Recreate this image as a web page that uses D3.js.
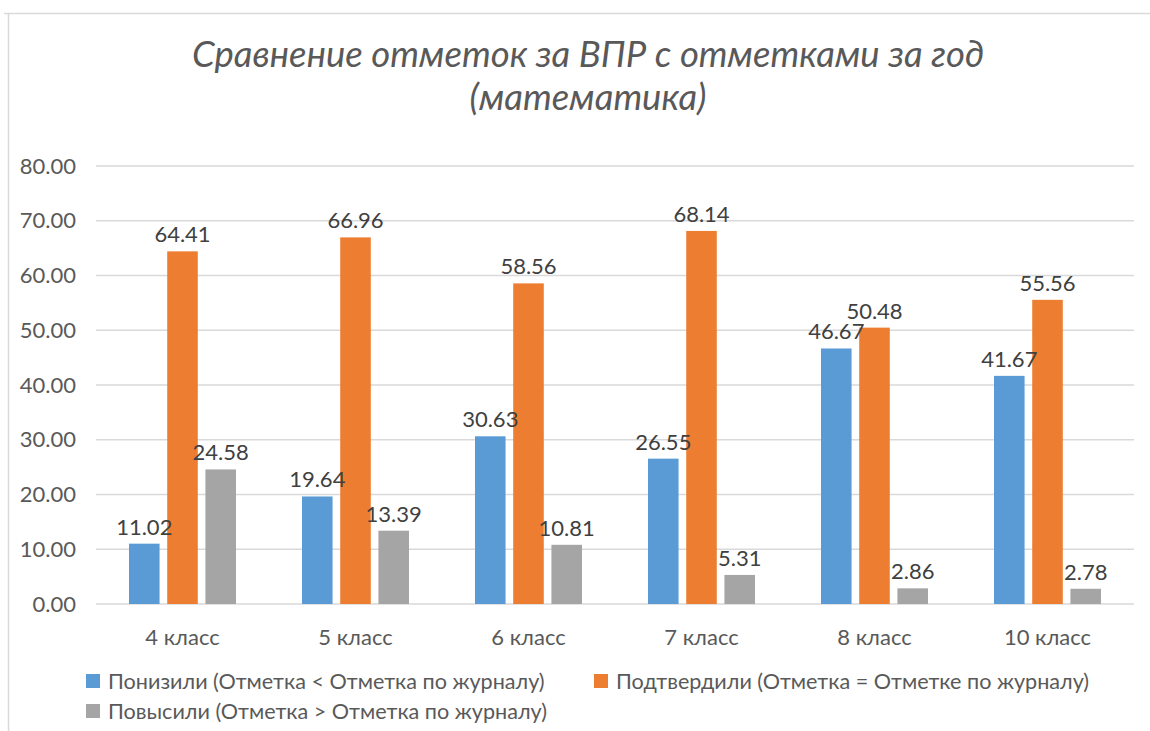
<!DOCTYPE html>
<html>
<head>
<meta charset="utf-8">
<script src="https://cdn.jsdelivr.net/npm/d3@7"></script>
<style>
  body { margin: 0; background: #fff; }
  svg { font-family: Lato, "Open Sans", sans-serif; }
</style>
</head>
<body>
<div id="chart"></div>
<script>
// data
var classes = ["4 класс", "5 класс", "6 класс", "7 класс", "8 класс", "10 класс"]
var lowered = [11.02, 19.64, 30.63, 26.55, 46.67, 41.67]
var confirmed = [64.41, 66.96, 58.56, 68.14, 50.48, 55.56]
var raised = [24.58, 13.39, 10.81, 5.31, 2.86, 2.78]
var seriesNames = [
  "Понизили (Отметка < Отметка по журналу)",
  "Подтвердили (Отметка = Отметке по журналу)",
  "Повысили (Отметка > Отметка по журналу)"
]
var yTicks = [0, 10, 20, 30, 40, 50, 60, 70, 80]
var colors = ["#5B9BD5", "#ED7D31", "#A5A5A5"]

var W = 1150, H = 731
var svg = d3.select("#chart").append("svg").attr("width", W).attr("height", H)

// chart frame (cropped)
svg.append("path")
  .attr("d", "M4,13.5H1150M8.5,13.5V731")
  .attr("fill", "none").attr("stroke", "#d9d9d9").attr("stroke-width", 1.5)

// title
var title = svg.append("text")
  .attr("text-anchor", "middle")
  .style("font-style", "italic")
  .style("font-size", "36.5px")
  .attr("fill", "#595959")
title.append("tspan").attr("x", 588).attr("y", 67).text("Сравнение отметок за ВПР с отметками за год")
title.append("tspan").attr("x", 588).attr("y", 110).text("(математика)")

var plotL = 96, plotR = 1134, plotT = 166, plotB = 604

var ys = d3.scaleLinear().domain([0, 80]).range([plotB, plotT])
var xs = d3.scaleBand().domain(classes).range([plotL, plotR])
var inner = d3.scaleBand().domain([0, 1, 2]).range([33, xs.bandwidth() - 33]).paddingInner(0.2)

// gridlines
svg.append("g")
  .selectAll("line")
  .data(yTicks)
  .enter()
  .append("line")
  .attr("x1", plotL).attr("x2", plotR)
  .attr("y1", d => ys(d)).attr("y2", d => ys(d))
  .attr("stroke", "#d9d9d9").attr("stroke-width", 1.5)

// y axis labels
var yAxis = svg.append("g")
  .attr("transform", "translate(" + 84 + ",0)")
  .call(d3.axisLeft(ys).tickValues(yTicks).tickFormat(d3.format(".2f")).tickSize(0).tickPadding(8))
yAxis.select(".domain").remove()
yAxis.selectAll("text")
  .style("font-family", "Lato, sans-serif")
  .style("font-size", "22px")
  .attr("fill", "#595959")

// x axis labels
var xAxis = svg.append("g")
  .attr("transform", "translate(0," + plotB + ")")
  .call(d3.axisBottom(xs).tickSize(0).tickPadding(25))
xAxis.select(".domain").remove()
xAxis.selectAll("text")
  .style("font-family", "Lato, sans-serif")
  .style("font-size", "22px")
  .attr("fill", "#595959")

var series = [lowered, confirmed, raised]
var rows = []
series.forEach(function (vals, s) {
  vals.forEach(function (v, i) { rows.push({ s: s, cls: classes[i], v: v }) })
})

var bars = svg.append("g")
bars.selectAll("rect")
  .data(rows)
  .enter()
  .append("rect")
  .attr("x", d => xs(d.cls) + inner(d.s))
  .attr("width", inner.bandwidth())
  .attr("y", d => ys(d.v))
  .attr("height", d => plotB - ys(d.v))
  .attr("fill", d => colors[d.s])

bars.selectAll(".myLabels")
  .data(rows)
  .enter()
  .append("text")
  .attr("class", "myLabels")
  .attr("x", d => xs(d.cls) + inner(d.s) + inner.bandwidth() / 2)
  .attr("y", d => ys(d.v) - 9)
  .attr("text-anchor", "middle")
  .style("font-size", "22px")
  .attr("fill", "#404040")
  .text(d => d3.format(".2f")(d.v))

// legend
var legendPos = [[86, 681], [594, 681], [86, 711]]
var legend = svg.append("g")
  .selectAll("g")
  .data(seriesNames)
  .enter()
  .append("g")
  .attr("transform", (d, i) => "translate(" + legendPos[i][0] + "," + legendPos[i][1] + ")")
legend.append("rect")
  .attr("x", 0).attr("y", -7).attr("width", 14).attr("height", 14)
  .attr("fill", (d, i) => colors[i])
legend.append("text")
  .attr("x", 22).attr("y", 8)
  .style("font-size", "21.6px")
  .attr("fill", "#595959")
  .text(d => d)
</script>
</body>
</html>
